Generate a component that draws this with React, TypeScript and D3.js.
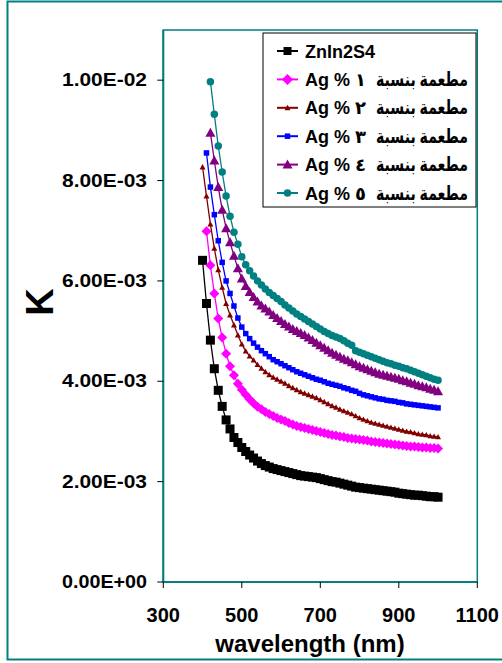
import React from "react";
import * as d3 from "d3";

// wavelength grid (nm)
const WL = [
  400, 410, 420, 430, 440, 450, 460, 470, 480, 490,
  500, 510, 520, 530, 540, 550, 560, 570, 580, 590,
  600, 610, 620, 630, 640, 650, 660, 670, 680, 690,
  700, 710, 720, 730, 740, 750, 760, 770, 780, 790,
  800, 810, 820, 830, 840, 850, 860, 870, 880, 890,
  900, 910, 920, 930, 940, 950, 960, 970, 980, 990, 1000,
];

// K values in units of 1E-3
const K_ZNIN2S4 = [ // 400..1000
  6.41, 5.55, 4.82, 4.25, 3.82, 3.50, 3.23, 3.05, 2.88, 2.78,
  2.68, 2.60, 2.53, 2.47, 2.41, 2.36, 2.32, 2.29, 2.26, 2.24,
  2.22, 2.20, 2.18, 2.16, 2.14, 2.12, 2.11, 2.10, 2.09, 2.08,
  2.06, 2.04, 2.02, 2.00, 1.99, 1.97, 1.95, 1.93, 1.91, 1.89,
  1.88, 1.87, 1.86, 1.85, 1.84, 1.83, 1.82, 1.81, 1.80, 1.79,
  1.77, 1.76, 1.75, 1.74, 1.73, 1.73, 1.72, 1.71, 1.70, 1.70, 1.69,
];
const K_AG1 = [ // 410..1000
  6.99, 6.31, 5.75, 5.25, 4.87, 4.55, 4.30, 4.12, 3.95,
  3.83, 3.73, 3.64, 3.56, 3.49, 3.44, 3.39, 3.35, 3.31, 3.27,
  3.24, 3.21, 3.17, 3.14, 3.11, 3.09, 3.07, 3.05, 3.03, 3.01,
  2.99, 2.97, 2.95, 2.93, 2.92, 2.90, 2.89, 2.87, 2.86, 2.85,
  2.84, 2.83, 2.82, 2.80, 2.79, 2.78, 2.77, 2.76, 2.75, 2.74,
  2.73, 2.72, 2.71, 2.70, 2.70, 2.69, 2.68, 2.68, 2.67, 2.67, 2.66,
];
const K_AG2 = [ // 400..1000
  8.27, 7.69, 7.13, 6.65, 6.22, 5.87, 5.55, 5.32, 5.12, 4.92,
  4.74, 4.60, 4.50, 4.42, 4.33, 4.26, 4.19, 4.13, 4.08, 4.04,
  4.00, 3.96, 3.91, 3.87, 3.83, 3.79, 3.76, 3.73, 3.70, 3.67,
  3.63, 3.59, 3.55, 3.51, 3.48, 3.44, 3.41, 3.38, 3.35, 3.31,
  3.27, 3.24, 3.21, 3.18, 3.16, 3.14, 3.12, 3.10, 3.08, 3.06,
  3.04, 3.02, 3.00, 2.99, 2.97, 2.95, 2.94, 2.93, 2.91, 2.90, 2.89,
];
const K_AG3 = [ // 410..1000
  8.55, 7.87, 7.32, 6.80, 6.37, 6.00, 5.75, 5.50, 5.26,
  5.08, 4.95, 4.85, 4.76, 4.68, 4.61, 4.55, 4.49, 4.43, 4.39,
  4.35, 4.31, 4.27, 4.23, 4.19, 4.16, 4.13, 4.10, 4.07, 4.04,
  4.02, 3.99, 3.96, 3.94, 3.92, 3.90, 3.87, 3.85, 3.82, 3.80,
  3.76, 3.73, 3.71, 3.69, 3.67, 3.65, 3.64, 3.62, 3.61, 3.60,
  3.58, 3.57, 3.55, 3.54, 3.53, 3.52, 3.51, 3.50, 3.49, 3.48, 3.47,
];
const K_AG4 = [ // 420..1000
  8.95, 8.40, 7.87, 7.42, 7.05, 6.77, 6.50, 6.25,
  6.05, 5.90, 5.78, 5.68, 5.59, 5.51, 5.45, 5.39, 5.32, 5.26,
  5.20, 5.14, 5.09, 5.04, 5.00, 4.96, 4.92, 4.87, 4.82, 4.77,
  4.72, 4.67, 4.62, 4.57, 4.53, 4.49, 4.45, 4.42, 4.38, 4.34,
  4.30, 4.27, 4.24, 4.21, 4.18, 4.15, 4.13, 4.11, 4.09, 4.07,
  4.05, 4.02, 4.00, 3.97, 3.95, 3.92, 3.90, 3.88, 3.85, 3.83, 3.80,
];
const K_AG5 = [ // 420..1000
  9.97, 9.32, 8.69, 8.17, 7.69, 7.29, 6.97, 6.73,
  6.48, 6.32, 6.20, 6.10, 6.00, 5.92, 5.84, 5.77, 5.71, 5.65,
  5.59, 5.52, 5.46, 5.40, 5.34, 5.29, 5.24, 5.19, 5.14, 5.09,
  5.04, 4.99, 4.95, 4.91, 4.88, 4.85, 4.81, 4.76, 4.72, 4.61,
  4.58, 4.55, 4.52, 4.49, 4.46, 4.43, 4.40, 4.37, 4.35, 4.32,
  4.30, 4.27, 4.25, 4.22, 4.19, 4.16, 4.13, 4.10, 4.07, 4.04, 4.02,
];
const UNIT = 1e-3;

// legend labels: Latin part and Arabic part ("مطعمة بنسبة ١ % Ag")
const LEGEND_LATIN = ["ZnIn2S4", "Ag % ١", "Ag % ٢", "Ag % ٣", "Ag % ٤", "Ag % ٥"];
const LEGEND_ARABIC = ["", "مطعمة بنسبة", "مطعمة بنسبة", "مطعمة بنسبة", "مطعمة بنسبة", "مطعمة بنسبة"];
const SERIES_START = [400, 410, 400, 410, 420, 420];
const SERIES_VALUES = [K_ZNIN2S4, K_AG1, K_AG2, K_AG3, K_AG4, K_AG5];

const X_TICKS = [300, 500, 700, 900, 1100];
const Y_TICKS = [0, 0.002, 0.004, 0.006, 0.008, 0.01];
const Y_TICK_LABELS = ["0.00E+00", "2.00E-03", "4.00E-03", "6.00E-03", "8.00E-03", "1.00E-02"];

type Shape = "square" | "diamond" | "triangle" | "circle";
const STYLES: { color: string; shape: Shape; size: number; lsize: number }[] = [
  { color: "#000000", shape: "square", size: 9, lsize: 8 },
  { color: "#FF00FF", shape: "diamond", size: 10, lsize: 11 },
  { color: "#800000", shape: "triangle", size: 6, lsize: 6 },
  { color: "#0000FF", shape: "square", size: 5.5, lsize: 5.5 },
  { color: "#800080", shape: "triangle", size: 10, lsize: 10 },
  { color: "#008080", shape: "circle", size: 7.5, lsize: 7.5 },
];

function markerPath(shape: Shape, s: number): string {
  const h = s / 2;
  switch (shape) {
    case "square":
      return `M${-h},${-h}H${h}V${h}H${-h}Z`;
    case "diamond":
      return `M0,${-h}L${h},0L0,${h}L${-h},0Z`;
    case "triangle":
      return `M0,${-h}L${h},${h * 0.8}L${-h},${h * 0.8}Z`;
    case "circle":
      return `M${h},0A${h},${h} 0 1,1 ${-h},0A${h},${h} 0 1,1 ${h},0Z`;
  }
}

const W = 502;
const H = 663;
const PLOT = { left: 163.3, right: 477.3, top: 30, bottom: 582 };
const FONT = "'Liberation Sans', Arial, 'DejaVu Sans', sans-serif";
const TEAL = "#008080";

export default function App() {
  const x = d3.scaleLinear().domain([300, 1100]).range([PLOT.left, PLOT.right]);
  const y = d3.scaleLinear().domain([0, 0.011]).range([PLOT.bottom, PLOT.top]);
  const line = d3
    .line<[number, number]>()
    .x((d) => x(d[0]))
    .y((d) => y(d[1]));

  const series = SERIES_VALUES.map((vals, i) => {
    const off = WL.indexOf(SERIES_START[i]);
    return vals.map((v, j) => [WL[off + j], v * UNIT] as [number, number]);
  });

  const legendX = 263;
  const legendY = 33;
  const legendW = 213;
  const legendH = 174;
  const rowY = (i: number) => legendY + 18 + i * 28.4;

  return (
    <svg
      width={W}
      height={H}
      style={{ position: "absolute", left: 0, top: 0, background: "#fff" }}
      fontFamily={FONT}
    >
      <rect x={0} y={0} width={W} height={H} fill="#fff" />
      {/* outer chart frame */}
      <rect x={7.5} y={1.5} width={520} height={658} fill="none" stroke={TEAL} strokeWidth={2} />

      {/* plot area frame */}
      <rect
        x={PLOT.left}
        y={PLOT.top}
        width={PLOT.right - PLOT.left}
        height={PLOT.bottom - PLOT.top}
        fill="#fff"
        stroke={TEAL}
        strokeWidth={1.5}
      />
      {/* axes lines */}
      <line x1={PLOT.left} x2={PLOT.left} y1={PLOT.top} y2={PLOT.bottom} stroke={TEAL} strokeWidth={2} />
      <line x1={PLOT.left} x2={PLOT.right} y1={PLOT.bottom} y2={PLOT.bottom} stroke={TEAL} strokeWidth={2} />

      {/* y ticks */}
      {Y_TICKS.map((t, i) => (
        <g key={"yt" + i}>
          <line x1={PLOT.left - 6} x2={PLOT.left} y1={y(t)} y2={y(t)} stroke="#000" strokeWidth={1} />
          <text
            x={147}
            y={y(t) + 6}
            textAnchor="end"
            fontSize={18}
            fontWeight="bold"
            fill="#000"
            textLength={85}
            lengthAdjust="spacingAndGlyphs"
          >
            {Y_TICK_LABELS[i]}
          </text>
        </g>
      ))}
      {/* x ticks */}
      {X_TICKS.map((t) => (
        <g key={"xt" + t}>
          <line x1={x(t)} x2={x(t)} y1={PLOT.bottom} y2={PLOT.bottom + 6} stroke="#000" strokeWidth={1} />
          <text x={x(t)} y={622} textAnchor="middle" fontSize={20} fontWeight="bold" fill="#000">
            {t}
          </text>
        </g>
      ))}

      {/* axis titles */}
      <text x={310} y={652} textAnchor="middle" fontSize={24} fontWeight="bold" fill="#000">
        wavelength (nm)
      </text>
      <text
        transform="translate(53,302) rotate(-90)"
        textAnchor="middle"
        fontSize={38}
        fontWeight="bold"
        fill="#000"
      >
        K
      </text>

      {/* series */}
      {series.map((pts, i) => {
        const st = STYLES[i];
        return (
          <g key={"s" + i}>
            <path d={line(pts) ?? ""} fill="none" stroke={st.color} strokeWidth={1.3} />
            {pts.map((p, j) => (
              <path
                key={j}
                d={markerPath(st.shape, st.size)}
                transform={`translate(${x(p[0])},${y(p[1])})`}
                fill={st.color}
              />
            ))}
          </g>
        );
      })}

      {/* legend */}
      <rect x={legendX} y={legendY} width={legendW} height={legendH} fill="#fff" stroke="#000" strokeWidth={1} />
      {LEGEND_LATIN.map((name, i) => {
        const st = STYLES[i];
        const cy = rowY(i);
        return (
          <g key={"lg" + i}>
            <line x1={277} x2={298} y1={cy} y2={cy} stroke={st.color} strokeWidth={2} />
            <path d={markerPath(st.shape, st.lsize)} transform={`translate(287.5,${cy})`} fill={st.color} />
            <text x={305} y={cy + 6.5} fontSize={18} fontWeight="bold" fill="#000">
              {name}
            </text>
            {LEGEND_ARABIC[i] && (
              <text
                x={468}
                y={cy + 6.5}
                textAnchor="end"
                direction="ltr"
                fontSize={19.5}
                fontWeight="bold"
                fill="#000"
                textLength={92}
                lengthAdjust="spacingAndGlyphs"
              >
                {LEGEND_ARABIC[i]}
              </text>
            )}
          </g>
        );
      })}
    </svg>
  );
}
